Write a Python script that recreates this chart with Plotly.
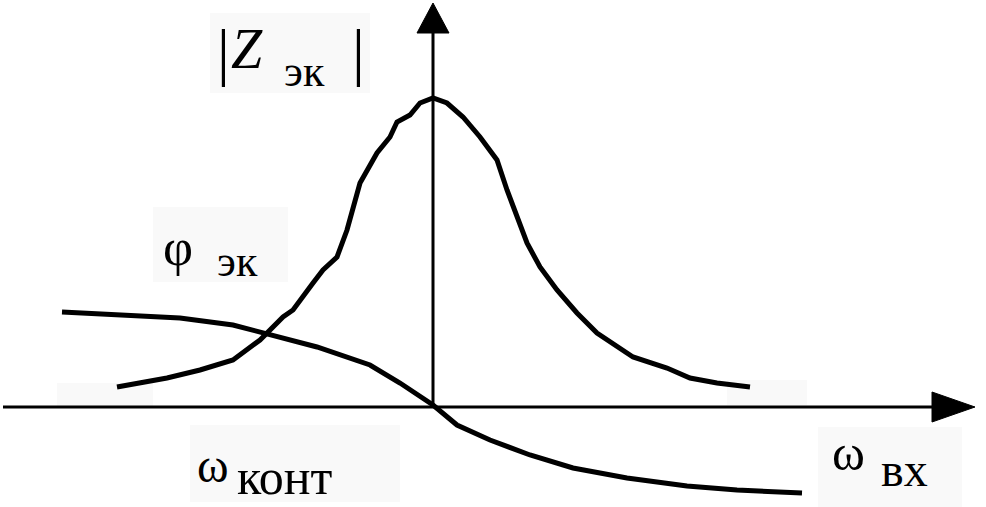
import plotly.graph_objects as go

# |Z эк| resonance curve (x = offset from centre frequency, y = magnitude)
bell_x = [-316, -293, -266, -233, -200, -173, -160, -150, -140, -133, -120, -110, -96, -86,
          -80, -73, -56, -43, -36, -23, -13, 0, 14, 30, 47, 64, 74, 84, 94, 107, 124, 144,
          164, 200, 234, 257, 284, 317]
bell_y = [20, 24, 29, 37, 47, 67, 80, 90, 97, 107, 124, 137, 150, 177,
          200, 224, 254, 270, 285, 292, 304, 309, 304, 290, 270, 247, 217, 190, 164, 140, 117, 94,
          74, 50, 39, 29, 24, 20]

# φ эк phase curve
phase_x = [-371, -313, -253, -200, -160, -116, -63, -33, 0, 24, 57, 97, 140, 194, 254, 304, 369]
phase_y = [95, 92, 89, 82, 72, 60, 42, 24, 2, -18, -33, -48, -61, -71, -79, -83, -86]

FONT = "Liberation Serif"

fig = go.Figure()

# faint label backgrounds
boxes = [(-223, 314, -63, 394), (-280, 125, -145, 200), (-243, -95, -33, -18),
         (385, -100, 529, -20), (-376, 0, -280, 24), (294, 2, 374, 27)]
for x0, y0, x1, y1 in boxes:
    fig.add_shape(type="rect", x0=x0, y0=y0, x1=x1, y1=y1,
                  fillcolor="#f9f9f9", line_width=0, layer="below")

# =========================
# AXES
# =========================
fig.add_shape(type="line", x0=-430, y0=0, x1=500, y1=0,
              line=dict(color="black", width=3))
fig.add_shape(type="path", path="M 499 -15 L 542 0 L 499 15 Z",
              fillcolor="black", line=dict(color="black", width=1))
fig.add_shape(type="line", x0=0, y0=0, x1=0, y1=375,
              line=dict(color="black", width=3))
fig.add_shape(type="path", path="M -16 374 L 0 404 L 16 374 Z",
              fillcolor="black", line=dict(color="black", width=1))

# =========================
# CURVES
# =========================
fig.add_trace(go.Scatter(x=bell_x, y=bell_y, mode="lines",
                         line=dict(color="black", width=5)))
fig.add_trace(go.Scatter(x=phase_x, y=phase_y, mode="lines",
                         line=dict(color="black", width=5)))

# =========================
# LABELS
# =========================
def label(x, y, text, size):
    fig.add_annotation(x=x, y=y, text=text, showarrow=False,
                       xanchor="center", yanchor="middle",
                       font=dict(family=FONT, size=size, color="black"))

label(-210, 356, "|", 64)
label(-186, 358, "<i>Z</i>", 56)
label(-129, 336, "эк", 44)
label(-75, 356, "|", 64)

label(-255, 160, "φ", 52)
label(-196, 146, "эк", 44)

label(-220, -58, "ω", 48)
label(-148, -70, "конт", 50)

label(415, -46, "ω", 50)
label(471, -62, "вх", 48)

fig.update_layout(
    width=986, height=507,
    margin=dict(l=0, r=0, t=0, b=0),
    paper_bgcolor="white", plot_bgcolor="white",
    xaxis=dict(visible=False, range=[-433, 553]),
    yaxis=dict(visible=False, range=[-100, 407]),
    showlegend=False
)

fig.write_html("out.html", config={"displayModeBar": False},
               post_script="document.body.style.margin='0px';")
